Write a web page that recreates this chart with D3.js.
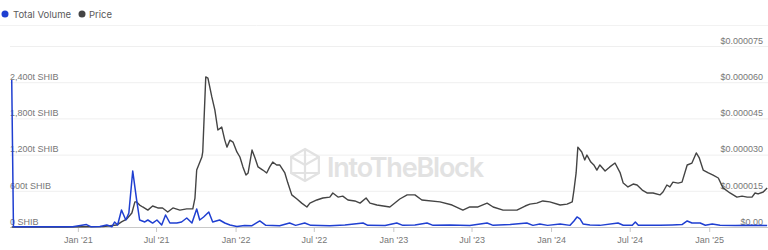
<!DOCTYPE html>
<html>
<head>
<meta charset="UTF-8">
<script src="https://cdn.jsdelivr.net/npm/d3@7"></script>
<style>
  body { margin: 0; background: #fff; }
  svg { font-family: Inter, "Noto Sans", sans-serif; }
  .axis text { fill: #777; font-size: 9px; }
  .legend text { fill: #5a5a5a; font-size: 9.5px; }
</style>
</head>
<body>
<div id="chart"></div>
<script>

var priceDates = ["2020-08-01","2020-12-01","2021-03-01","2021-04-01","2021-04-12","2021-04-24","2021-05-06","2021-05-13","2021-05-17","2021-05-24","2021-05-31","2021-06-12","2021-06-23","2021-07-05","2021-07-16","2021-07-28","2021-08-09","2021-08-25","2021-09-10","2021-09-24","2021-09-29","2021-10-03","2021-10-15","2021-10-17","2021-10-24","2021-10-29","2021-11-07","2021-11-14","2021-11-21","2021-11-30","2021-12-07","2021-12-12","2021-12-19","2021-12-26","2022-01-04","2022-01-11","2022-01-18","2022-01-25","2022-01-30","2022-02-08","2022-02-15","2022-02-22","2022-03-05","2022-03-14","2022-03-21","2022-03-28","2022-04-06","2022-04-13","2022-04-25","2022-05-02","2022-05-11","2022-05-23","2022-06-03","2022-06-15","2022-06-22","2022-07-08","2022-07-22","2022-08-07","2022-08-14","2022-08-26","2022-09-06","2022-09-18","2022-10-04","2022-10-16","2022-10-30","2022-11-08","2022-11-24","2022-12-24","2023-01-16","2023-02-02","2023-02-20","2023-03-08","2023-04-19","2023-05-17","2023-06-11","2023-06-27","2023-07-16","2023-08-06","2023-08-20","2023-09-12","2023-10-14","2023-11-02","2023-11-13","2023-11-29","2023-12-13","2023-12-29","2024-01-22","2024-02-07","2024-02-19","2024-02-23","2024-02-28","2024-03-03","2024-03-12","2024-03-19","2024-03-24","2024-04-02","2024-04-09","2024-04-16","2024-04-23","2024-05-05","2024-05-16","2024-05-28","2024-06-09","2024-06-16","2024-06-27","2024-07-09","2024-07-18","2024-07-30","2024-08-10","2024-08-24","2024-09-09","2024-09-16","2024-09-25","2024-10-02","2024-10-09","2024-10-21","2024-10-30","2024-11-11","2024-11-22","2024-12-02","2024-12-09","2024-12-18","2024-12-30","2025-01-10","2025-01-22","2025-02-02","2025-02-18","2025-03-06","2025-03-18","2025-03-30","2025-04-10","2025-04-17","2025-04-24","2025-05-06","2025-05-15"];
// price in USD (millionths)
var priceValues = [0,0,0.2,0.8,2.1,3.3,5.8,10.4,10.4,9.1,8.3,7.0,8.7,7.9,7.9,6.2,7.9,7.0,7.5,7.5,12.0,23.6,29.0,31.1,62.2,61.7,53.9,48.5,40.2,41.4,36.0,33.1,36.0,35.2,31.1,29.0,24.9,21.5,22.4,31.9,28.6,24.9,23.6,22.4,24.9,26.9,25.7,25.7,22.4,18.2,13.3,11.6,9.9,8.3,9.9,11.2,12.0,12.4,14.1,12.4,12.8,11.2,10.8,9.9,12.0,9.9,9.1,8.3,11.6,13.3,13.3,11.2,10.4,9.1,7.0,8.3,8.3,9.9,8.3,7.0,7.0,8.7,9.5,9.9,10.8,10.4,9.1,9.5,10.4,15.3,22.4,33.1,31.1,27.8,29.8,26.9,25.7,23.6,25.7,23.2,24.9,26.5,22.4,18.2,16.6,17.8,17.4,15.3,14.1,14.1,13.3,14.5,17.4,16.6,18.6,18.2,18.6,25.7,26.5,30.7,28.6,23.6,22.4,21.5,20.3,16.2,14.1,12.4,12.8,12.4,12.4,14.1,13.7,14.5,16.2];

var volumeDates = ["2020-08-01","2020-08-05","2020-09-15","2020-11-01","2020-12-20","2021-01-21","2021-02-01","2021-02-21","2021-03-09","2021-03-21","2021-03-27","2021-04-03","2021-04-12","2021-04-22","2021-04-29","2021-05-08","2021-05-17","2021-05-24","2021-06-05","2021-06-12","2021-06-23","2021-07-03","2021-07-14","2021-07-23","2021-08-02","2021-08-18","2021-08-29","2021-09-10","2021-09-22","2021-10-03","2021-10-10","2021-10-19","2021-10-31","2021-11-09","2021-11-25","2021-12-07","2021-12-19","2022-01-04","2022-01-22","2022-02-08","2022-02-26","2022-03-12","2022-04-13","2022-05-06","2022-05-20","2022-06-10","2022-06-24","2022-08-07","2022-09-11","2022-10-23","2022-11-03","2022-12-13","2023-01-09","2023-01-23","2023-02-20","2023-03-20","2023-04-03","2023-05-12","2023-06-27","2023-08-06","2023-08-20","2023-09-28","2023-11-06","2023-11-20","2023-12-06","2023-12-24","2024-01-22","2024-02-14","2024-02-23","2024-03-01","2024-03-08","2024-03-15","2024-03-31","2024-04-23","2024-06-04","2024-06-16","2024-07-07","2024-07-14","2024-07-21","2024-09-09","2024-10-07","2024-10-30","2024-11-11","2024-11-22","2024-12-11","2024-12-23","2025-01-08","2025-01-26","2025-03-02","2025-04-06","2025-05-15"];
// total volume in trillions of SHIB
var volumeValues = [2436,5,3,4,6,40,3,8,33,5,83,33,282,116,232,928,448,116,83,116,66,116,33,199,66,66,83,149,66,298,116,166,249,83,116,66,33,10,25,22,100,27,20,66,27,66,27,22,35,66,27,25,66,27,33,66,27,35,25,66,27,40,66,27,50,27,50,27,100,166,133,50,35,27,66,30,30,83,27,27,35,40,100,66,66,30,50,30,25,30,25];

var xTicks = ["2021-01-01","2021-07-01","2022-01-01","2022-07-01","2023-01-01","2023-07-01","2024-01-01","2024-07-01","2025-01-01"];
var xTickLabels = ["Jan '21","Jul '21","Jan '22","Jul '22","Jan '23","Jul '23","Jan '24","Jul '24","Jan '25"];
var volumeTicks = [0, 600, 1200, 1800, 2400];
var volumeTickLabels = ["0 SHIB", "600t SHIB", "1,200t SHIB", "1,800t SHIB", "2,400t SHIB"];
var priceTicks = [0, 15, 30, 45, 60, 75];
var priceTickLabels = ["$0.00", "$0.000015", "$0.000030", "$0.000045", "$0.000060", "$0.000075"];

var W = 768, H = 250;
var plotLeft = 10, plotRight = 768, plotTop = 46, plotBottom = 227;
var parse = d3.timeParse("%Y-%m-%d");

var svg = d3.select("#chart").append("svg")
    .attr("width", W)
    .attr("height", H);

var x = d3.scaleTime()
    .domain([parse("2020-07-28"), parse("2025-05-17")])
    .range([plotLeft, plotRight]);
var yVol = d3.scaleLinear().domain([0, 3000]).range([plotBottom, plotTop]);
var yPrice = d3.scaleLinear().domain([0, 75]).range([plotBottom, plotTop]);

// legend
var legend = svg.append("g").attr("class", "legend");
legend.append("circle").attr("cx", 5).attr("cy", 14).attr("r", 3.5).attr("fill", "#1f3fd1");
legend.append("text").attr("x", 13).attr("y", 17.5).text("Total Volume");
legend.append("circle").attr("cx", 82).attr("cy", 14).attr("r", 3.5).attr("fill", "#444");
legend.append("text").attr("x", 89).attr("y", 17.5).text("Price");
svg.append("line").attr("x1", 0).attr("x2", W).attr("y1", 25.5).attr("y2", 25.5)
    .attr("stroke", "#f2f2f2");

// gridlines
svg.append("g")
    .attr("transform", "translate(" + plotLeft + ",0)")
    .call(d3.axisLeft(yPrice).tickValues(priceTicks).tickSize(-(plotRight - plotLeft)).tickFormat(""))
    .call(function(g) {
      g.select(".domain").remove();
      g.selectAll("line").attr("stroke", "#efefef");
    });

// watermark
var wm = svg.append("g").attr("fill", "none").attr("stroke", "#e2e2e2").attr("stroke-width", 2.2);
var cx = 305, cy = 165, r = 16;
var hex = d3.range(6).map(function(i) {
  var a = Math.PI / 3 * i - Math.PI / 2;
  return [cx + r * Math.cos(a), cy + r * Math.sin(a)];
});
wm.append("path").attr("d", "M" + hex.join("L") + "Z");
wm.append("path").attr("d",
  "M" + hex[5] + "L" + cx + "," + cy + "L" + hex[1] +
  "M" + cx + "," + cy + "L" + hex[3] +
  "M" + hex[0] + "L" + cx + "," + (cy + r * 0.5) +
  "M" + hex[4] + "L" + hex[2]);
svg.append("text")
    .attr("x", 327).attr("y", 177)
    .attr("font-size", 27).attr("font-weight", 600)
    .attr("fill", "#e2e2e2")
    .attr("textLength", 157)
    .text("IntoTheBlock");

// x axis
var xAxis = svg.append("g")
    .attr("class", "axis")
    .attr("transform", "translate(0," + plotBottom + ")")
    .call(d3.axisBottom(x)
      .tickValues(xTicks.map(parse))
      .tickSize(5)
      .tickPadding(5)
      .tickFormat(function(d, i) { return xTickLabels[i]; }));
xAxis.select(".domain").attr("stroke", "#c8c8c8").attr("d", "M" + plotLeft + ",0.5H" + plotRight);
xAxis.selectAll(".tick line").attr("stroke", "#c8c8c8");

// left labels (inside plot)
var yl = svg.append("g")
    .attr("class", "axis")
    .attr("transform", "translate(" + plotLeft + ",0)")
    .call(d3.axisRight(yVol).tickValues(volumeTicks).tickSize(0).tickPadding(0)
      .tickFormat(function(d, i) { return volumeTickLabels[i]; }));
yl.select(".domain").remove();
yl.selectAll("text").attr("dy", "-0.3em");

// right labels
var yr = svg.append("g")
    .attr("class", "axis")
    .attr("transform", "translate(763,0)")
    .call(d3.axisLeft(yPrice).tickValues(priceTicks).tickSize(0).tickPadding(0)
      .tickFormat(function(d, i) { return priceTickLabels[i]; }));
yr.select(".domain").remove();
yr.selectAll("text").attr("dy", "-0.3em");

// lines
var volLine = d3.line()
    .x(function(d, i) { return x(parse(volumeDates[i])); })
    .y(function(d) { return yVol(d); });
var priceLine = d3.line()
    .x(function(d, i) { return x(parse(priceDates[i])); })
    .y(function(d) { return yPrice(d); });

svg.append("path")
    .datum(priceValues)
    .attr("fill", "none")
    .attr("stroke", "#444")
    .attr("stroke-width", 1.4)
    .attr("stroke-linejoin", "round")
    .attr("d", priceLine);

svg.append("path")
    .datum(volumeValues)
    .attr("fill", "none")
    .attr("stroke", "#1f3fd1")
    .attr("stroke-width", 1.5)
    .attr("stroke-linejoin", "round")
    .attr("d", volLine);

</script>
</body>
</html>
